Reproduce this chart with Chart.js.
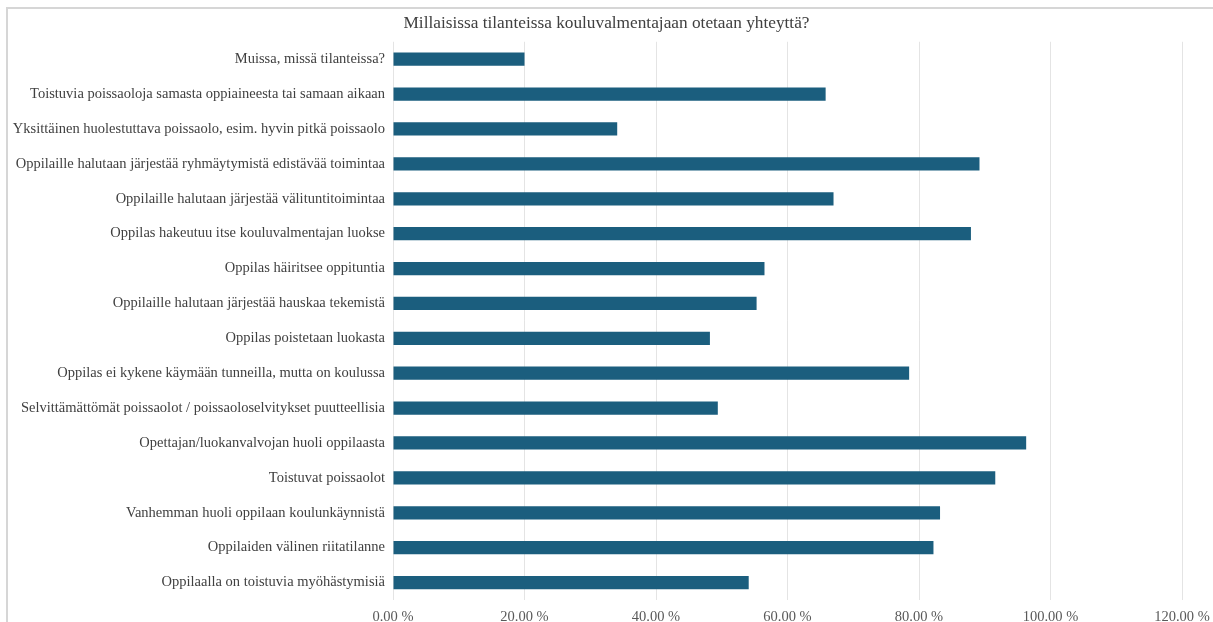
<!DOCTYPE html>
<html>
<head>
<meta charset="utf-8">
<script src="https://cdn.jsdelivr.net/npm/chart.js@4"></script>
<style>
  html, body { margin: 0; padding: 0; background: #fff; }
  #frame { position: absolute; left: 6px; top: 7px; width: 1220px; height: 630px; border: 2px solid #d6d6d6; }
  #wrap { position: absolute; left: 0; top: 0; width: 1213px; height: 622px; }
</style>
</head>
<body>
<div id="frame"></div>
<div id="wrap"><canvas id="myChart"></canvas></div>
<script>
var categories = [
  'Muissa, missä tilanteissa?',
  'Toistuvia poissaoloja samasta oppiaineesta tai samaan aikaan',
  'Yksittäinen huolestuttava poissaolo, esim. hyvin pitkä poissaolo',
  'Oppilaille halutaan järjestää ryhmäytymistä edistävää toimintaa',
  'Oppilaille halutaan järjestää välituntitoimintaa',
  'Oppilas hakeutuu itse kouluvalmentajan luokse',
  'Oppilas häiritsee oppituntia',
  'Oppilaille halutaan järjestää hauskaa tekemistä',
  'Oppilas poistetaan luokasta',
  'Oppilas ei kykene käymään tunneilla, mutta on koulussa',
  'Selvittämättömät poissaolot / poissaoloselvitykset puutteellisia',
  'Opettajan/luokanvalvojan huoli oppilaasta',
  'Toistuvat poissaolot',
  'Vanhemman huoli oppilaan koulunkäynnistä',
  'Oppilaiden välinen riitatilanne',
  'Oppilaalla on toistuvia myöhästymisiä'
];
var values = [20.0, 65.8, 34.1, 89.2, 67.0, 87.9, 56.5, 55.3, 48.2, 78.5, 49.4, 96.3, 91.6, 83.2, 82.2, 54.1];
var xTicks = [0, 20, 40, 60, 80, 100, 120];
var titleText = 'Millaisissa tilanteissa kouluvalmentajaan otetaan yhteyttä?';

var serif = "'Liberation Serif', 'DejaVu Serif', serif";

const ctx = document.getElementById('myChart');
new Chart(ctx, {
  type: 'bar',
  data: {
    labels: categories,
    datasets: [{
      data: values,
      backgroundColor: '#1b5e7e',
      borderWidth: 0,
      categoryPercentage: 1,
      barPercentage: 0.38
    }]
  },
  options: {
    indexAxis: 'y',
    responsive: true,
    maintainAspectRatio: false,
    animation: false,
    layout: { padding: 0 },
    plugins: {
      legend: { display: false },
      tooltip: { enabled: false },
      title: {
        display: true,
        text: titleText,
        color: '#404040',
        font: { family: serif, size: 17.3, weight: 'normal' },
        padding: { top: 13, bottom: 8 }
      }
    },
    scales: {
      x: {
        min: 0,
        max: 120,
        afterBuildTicks: function(scale) {
          scale.ticks = xTicks.map(function(v) { return { value: v }; });
        },
        afterFit: function(scale) {
          scale.height = 22;
          scale.paddingRight = 31;
          scale.paddingLeft = 0;
        },
        grid: { color: '#e4e4e4', drawTicks: false },
        border: { display: false },
        ticks: {
          color: '#595959',
          font: { family: serif, size: 14.5 },
          padding: 8,
          maxRotation: 0,
          callback: function(v) { return v.toFixed(2) + ' %'; }
        }
      },
      y: {
        afterFit: function(scale) { scale.width = 393; },
        grid: { display: false, drawTicks: false, tickLength: 0 },
        border: { display: false },
        ticks: {
          color: '#404040',
          font: { family: serif, size: 14.5 },
          padding: 8,
          autoSkip: false
        }
      }
    }
  }
});
</script>
</body>
</html>
